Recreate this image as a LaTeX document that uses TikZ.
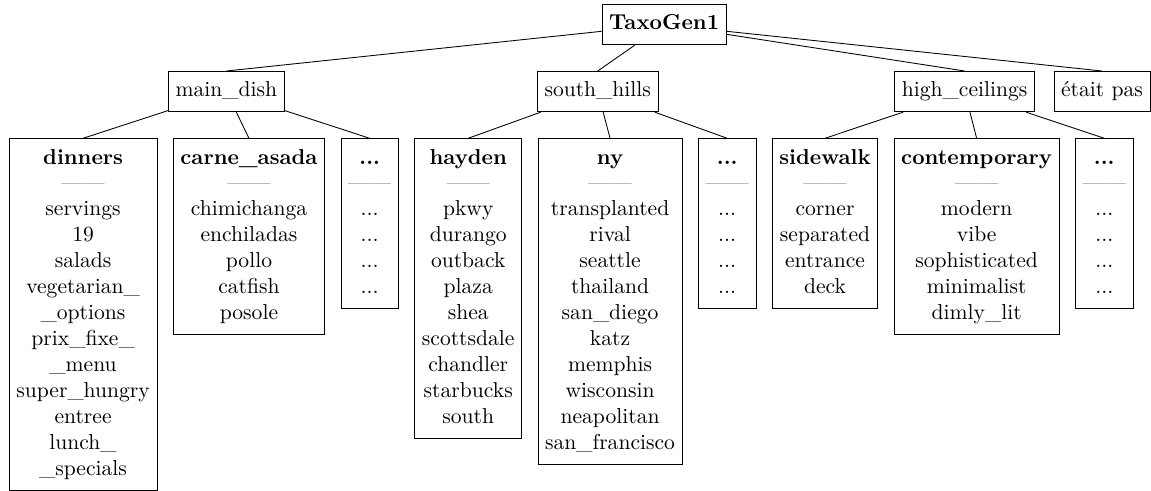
\documentclass[tikz,border=0pt]{standalone}
\usetikzlibrary{positioning,calc}
\begin{document}
\begin{tikzpicture}[x=0.463pt,y=-0.463pt,
  box/.style={draw, align=center, inner sep=3.333pt},
  leaf/.style={box, anchor=north west},
  nextleaf/.style={leaf, right=7.1pt of #1.north east, anchor=north west},
  link/.style={draw, line width=0.4pt}]
\newcommand{\rulesep}{\textcolor{black!55}{\textemdash\textemdash}}
\useasboundingbox (0,0) rectangle (1151,491);
\clip (0,0) rectangle (1151,491);

% third level: topic boxes
\node[leaf] (dinners) at (8.7,138.3) {\strut\textbf{dinners}\\ \rulesep\\ servings\\ 19\\ salads\\ vegetarian\_\\ \_options\\ prix\_fixe\_\\ \_menu\\ super\_hungry\\ entree\\ lunch\_\\ \_specials\strut};
\node[nextleaf=dinners] (carne) {\strut\textbf{carne\_asada}\\ \rulesep\\ chimichanga\\ enchiladas\\ pollo\\ catfish\\ posole\strut};
\node[nextleaf=carne] (dotsA) {\strut\textbf{...}\\ \rulesep\\ ...\\ ...\\ ...\\ ...\strut};
\node[nextleaf=dotsA] (hayden) {\strut\textbf{hayden}\\ \rulesep\\ pkwy\\ durango\\ outback\\ plaza\\ shea\\ scottsdale\\ chandler\\ starbucks\\ south\strut};
\node[nextleaf=hayden] (ny) {\strut\textbf{ny}\\ \rulesep\\ transplanted\\ rival\\ seattle\\ thailand\\ san\_diego\\ katz\\ memphis\\ wisconsin\\ neapolitan\\ san\_francisco\strut};
\node[nextleaf=ny] (dotsB) {\strut\textbf{...}\\ \rulesep\\ ...\\ ...\\ ...\\ ...\strut};
\node[nextleaf=dotsB] (sidewalk) {\strut\textbf{sidewalk}\\ \rulesep\\ corner\\ separated\\ entrance\\ deck\strut};
\node[nextleaf=sidewalk] (contemp) {\strut\textbf{contemporary}\\ \rulesep\\ modern\\ vibe\\ sophisticated\\ minimalist\\ dimly\_lit\strut};
\node[nextleaf=contemp] (dotsC) {\strut\textbf{...}\\ \rulesep\\ ...\\ ...\\ ...\\ ...\strut};

% second level, centred over their children
\coordinate (cA) at ($(dinners.north)!.5!(dotsA.north)$);
\coordinate (cB) at ($(hayden.north)!.5!(dotsB.north)$);
\coordinate (cC) at ($(sidewalk.north)!.5!(dotsC.north)$);
\node[box] (main) at (cA |- 0,91.6) {\strut main\_dish};
\node[box] (hills) at (cB |- 0,91.6) {\strut south\_hills};
\node[box] (ceil) at (cC |- 0,91.6) {\strut high\_ceilings};
\node[box] (etait) at (1102,91.6) {\strut était pas};

% root
\coordinate (c0) at ($(main)!.5!(etait)$);
\node[box, font=\bfseries] (root) at (c0 |- 0,24.7) {\strut TaxoGen1};

% connectors
\foreach \p/\c in {root/main, root/hills, root/ceil, root/etait,
                   main/dinners, main/carne, main/dotsA,
                   hills/hayden, hills/ny, hills/dotsB,
                   ceil/sidewalk, ceil/contemp, ceil/dotsC}
  \draw[link] (\p) -- (\c.north);
\end{tikzpicture}
\end{document}
